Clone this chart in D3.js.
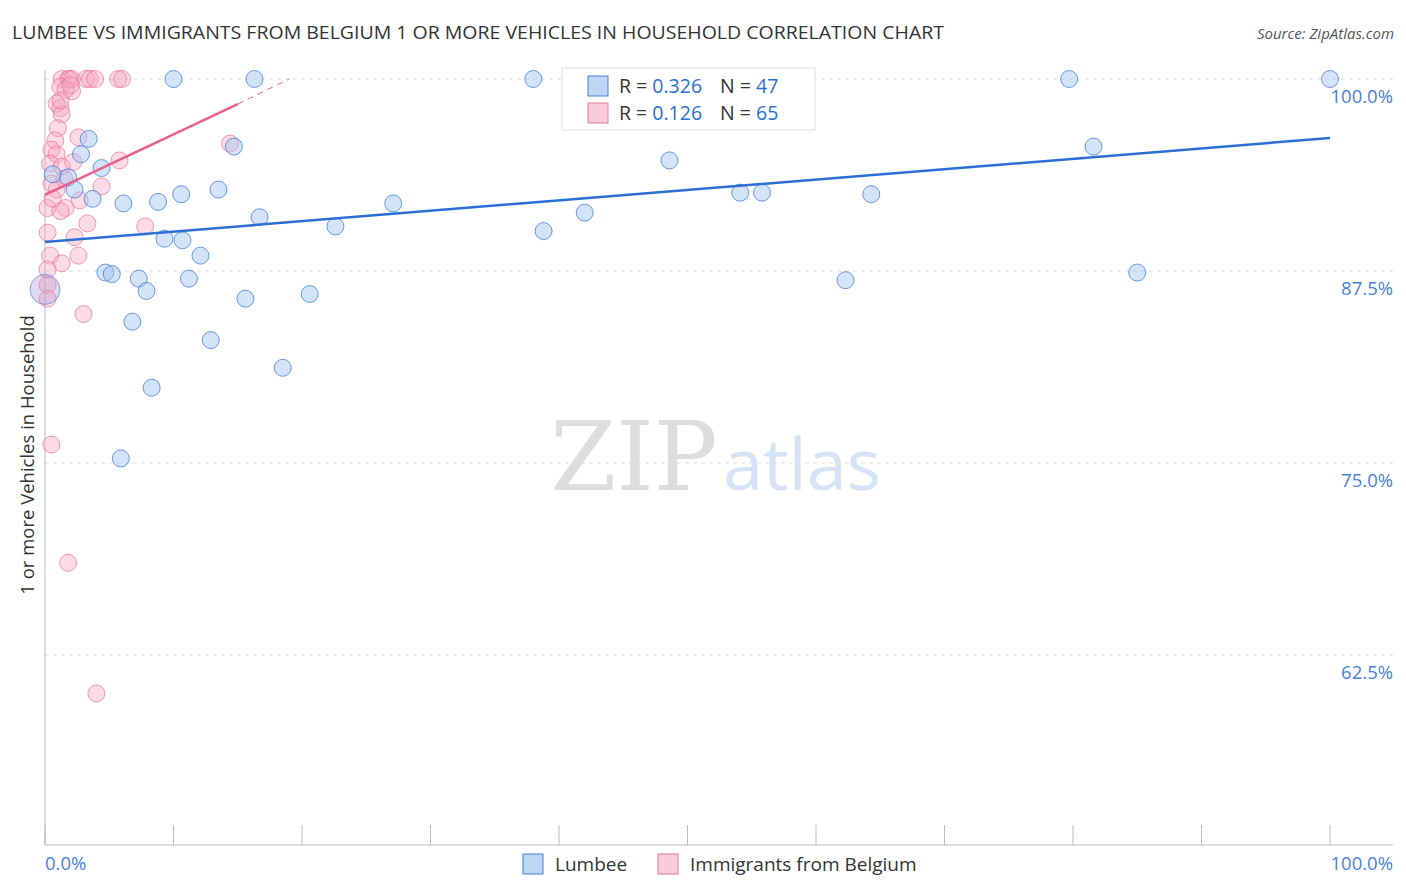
<!DOCTYPE html><html><head><meta charset="utf-8"><script src="https://cdn.jsdelivr.net/npm/d3@7"></script>
<style>body{margin:0;background:#fff;font-family:"Open Sans",sans-serif}</style></head><body><svg id="c" width="1406" height="892"></svg><script>
const blueX=[10,16.3,38,79.7,100,3.4,2.8,0.6,1.8,4.4,2.3,3.7,6.1,8.8,10.6,13.5,14.7,16.7,22.6,27.1,38.8,42,48.6,54.1,55.8,64.3,81.6,9.3,10.7,12.1,4.7,5.2,7.3,11.2,7.9,15.6,20.6,62.3,85,6.8,12.9,18.5,8.3,5.9,54];
const blueY=[100,100,100,100,100,96.1,95.1,93.8,93.6,94.2,92.8,92.2,91.9,92,92.5,92.8,95.6,91,90.4,91.9,90.1,91.3,94.7,92.6,92.6,92.5,95.6,89.6,89.5,88.5,87.4,87.3,87,87,86.2,85.7,86,86.9,87.4,84.2,83,81.2,79.9,75.3,98.1];
const pinkX=[1.3,1.8,1.9,2.1,3.2,3.5,3.9,5.7,6,1.2,2.1,0.9,1.2,1.3,1,0.8,2.6,0.5,0.9,0.4,1.3,2.2,5.8,14.4,0.5,0.9,4.4,2.7,0.2,1.6,1.2,3.3,7.8,2.3,0.2,2.6,0.4,1.3,0.2,0.2,0.2,3,0.5,1.8,4,1.6,1.2,2,0.6,1.5];
const pinkY=[100,100,100,100,100,100,100,100,100,99.5,99.2,98.4,98.1,97.7,96.8,96,96.2,95.4,95.1,94.5,94.3,94.6,94.7,95.8,93.2,92.8,93,92.1,91.6,91.6,91.4,90.6,90.4,89.7,90,88.5,88.5,88,87.6,86.6,85.7,84.7,76.2,68.5,60,99.3,98.6,99.6,92.2,93.5];
const yTicks=[100,87.5,75,62.5];
const svg=d3.select("#c");
const x=d3.scaleLinear().domain([0,100]).range([45,1330]);
const y=d3.scaleLinear().domain([50,100]).range([847,79]);
yTicks.forEach(t=>{svg.append("line").attr("x1",45).attr("x2",1393).attr("y1",y(t)).attr("y2",y(t)).attr("stroke","#ddd").attr("stroke-dasharray","4,4");
svg.append("text").attr("x",1393).attr("y",y(t)+24).attr("text-anchor","end").attr("fill","#4a7fd6").attr("font-size",18.5).text(t.toFixed(1)+"%");});
svg.append("line").attr("x1",45).attr("x2",45).attr("y1",70).attr("y2",845).attr("stroke","#bbb");
svg.append("line").attr("x1",45).attr("x2",1393).attr("y1",845).attr("y2",845).attr("stroke","#bbb");
d3.range(0,101,10).forEach(t=>svg.append("line").attr("x1",x(t)).attr("x2",x(t)).attr("y1",825).attr("y2",845).attr("stroke","#bbb"));
svg.append("text").attr("x",45).attr("y",870).attr("fill","#4a7fd6").attr("font-size",18.5).text("0.0%");
svg.append("text").attr("x",1393).attr("y",870).attr("text-anchor","end").attr("fill","#4a7fd6").attr("font-size",18.5).text("100.0%");
svg.append("text").attr("x",634).attr("y",490).attr("text-anchor","middle").attr("font-family","DejaVu Serif,serif").attr("font-size",95).attr("fill","#ddd").text("ZIP");
svg.append("text").attr("x",802).attr("y",490).attr("text-anchor","middle").attr("font-size",72).attr("fill","#d5e3f6").text("atlas");
svg.append("g").selectAll("circle").data(pinkX).join("circle").attr("cx",d=>x(d)).attr("cy",(d,i)=>y(pinkY[i])).attr("r",8.5).attr("fill","rgba(246,168,192,0.4)").attr("stroke","rgba(236,110,150,0.7)");
svg.append("g").selectAll("circle").data(blueX).join("circle").attr("cx",d=>x(d)).attr("cy",(d,i)=>y(blueY[i])).attr("r",8.5).attr("fill","rgba(160,196,240,0.45)").attr("stroke","rgba(60,120,210,0.75)");
svg.append("circle").attr("cx",x(0)).attr("cy",y(86.3)).attr("r",15).attr("fill","rgba(180,160,210,0.4)").attr("stroke","rgba(60,120,210,0.6)");
svg.append("line").attr("x1",x(0)).attr("x2",x(100)).attr("y1",y(89.39)).attr("y2",y(96.16)).attr("stroke","#2a6fd6").attr("stroke-width",2.5);
svg.append("line").attr("x1",x(0)).attr("x2",x(15)).attr("y1",y(92.45)).attr("y2",y(98.37)).attr("stroke","#e8608a").attr("stroke-width",2.5);
svg.append("line").attr("x1",x(15)).attr("x2",x(19)).attr("y1",y(98.37)).attr("y2",y(100)).attr("stroke","#e8608a").attr("stroke-dasharray","6,5");
svg.append("text").attr("x",12).attr("y",39).attr("font-size",18).attr("textLength",932).attr("lengthAdjust","spacingAndGlyphs").attr("fill","#333").text("LUMBEE VS IMMIGRANTS FROM BELGIUM 1 OR MORE VEHICLES IN HOUSEHOLD CORRELATION CHART");
svg.append("text").attr("x",1394).attr("y",39).attr("text-anchor","end").attr("font-size",15).attr("font-style","italic").attr("fill","#555").text("Source: ZipAtlas.com");
svg.append("text").attr("transform","translate(34,455) rotate(-90)").attr("text-anchor","middle").attr("font-size",18.5).attr("fill","#333").text("1 or more Vehicles in Household");
const lg=svg.append("g");
lg.append("rect").attr("x",562).attr("y",68).attr("width",253).attr("height",62).attr("fill","#fff").attr("stroke","#ddd");
[["0.326","47","rgba(160,196,240,0.7)","#4a7fd6"],["0.126","65","rgba(246,168,192,0.6)","#e87aa0"]].forEach((r,i)=>{const yy=86+i*27;
lg.append("rect").attr("x",588).attr("y",yy-10).attr("width",20).attr("height",20).attr("fill",r[2]).attr("stroke",r[3]);
const t=lg.append("text").attr("x",619).attr("y",yy+7).attr("font-size",19.5).attr("fill","#333");
t.append("tspan").text("R = ");t.append("tspan").attr("fill","#2a6fd6").text(r[0]);t.append("tspan").attr("dx",18).text("N = ");t.append("tspan").attr("fill","#2a6fd6").text(r[1]);});
[["Lumbee","rgba(160,196,240,0.7)","#4a7fd6",523],["Immigrants from Belgium","rgba(246,168,192,0.6)","#e87aa0",658]].forEach(r=>{
svg.append("rect").attr("x",r[3]).attr("y",854).attr("width",20).attr("height",20).attr("fill",r[1]).attr("stroke",r[2]);
svg.append("text").attr("x",r[3]+32).attr("y",871).attr("font-size",19).attr("fill","#333").text(r[0]);});
</script></body></html>
